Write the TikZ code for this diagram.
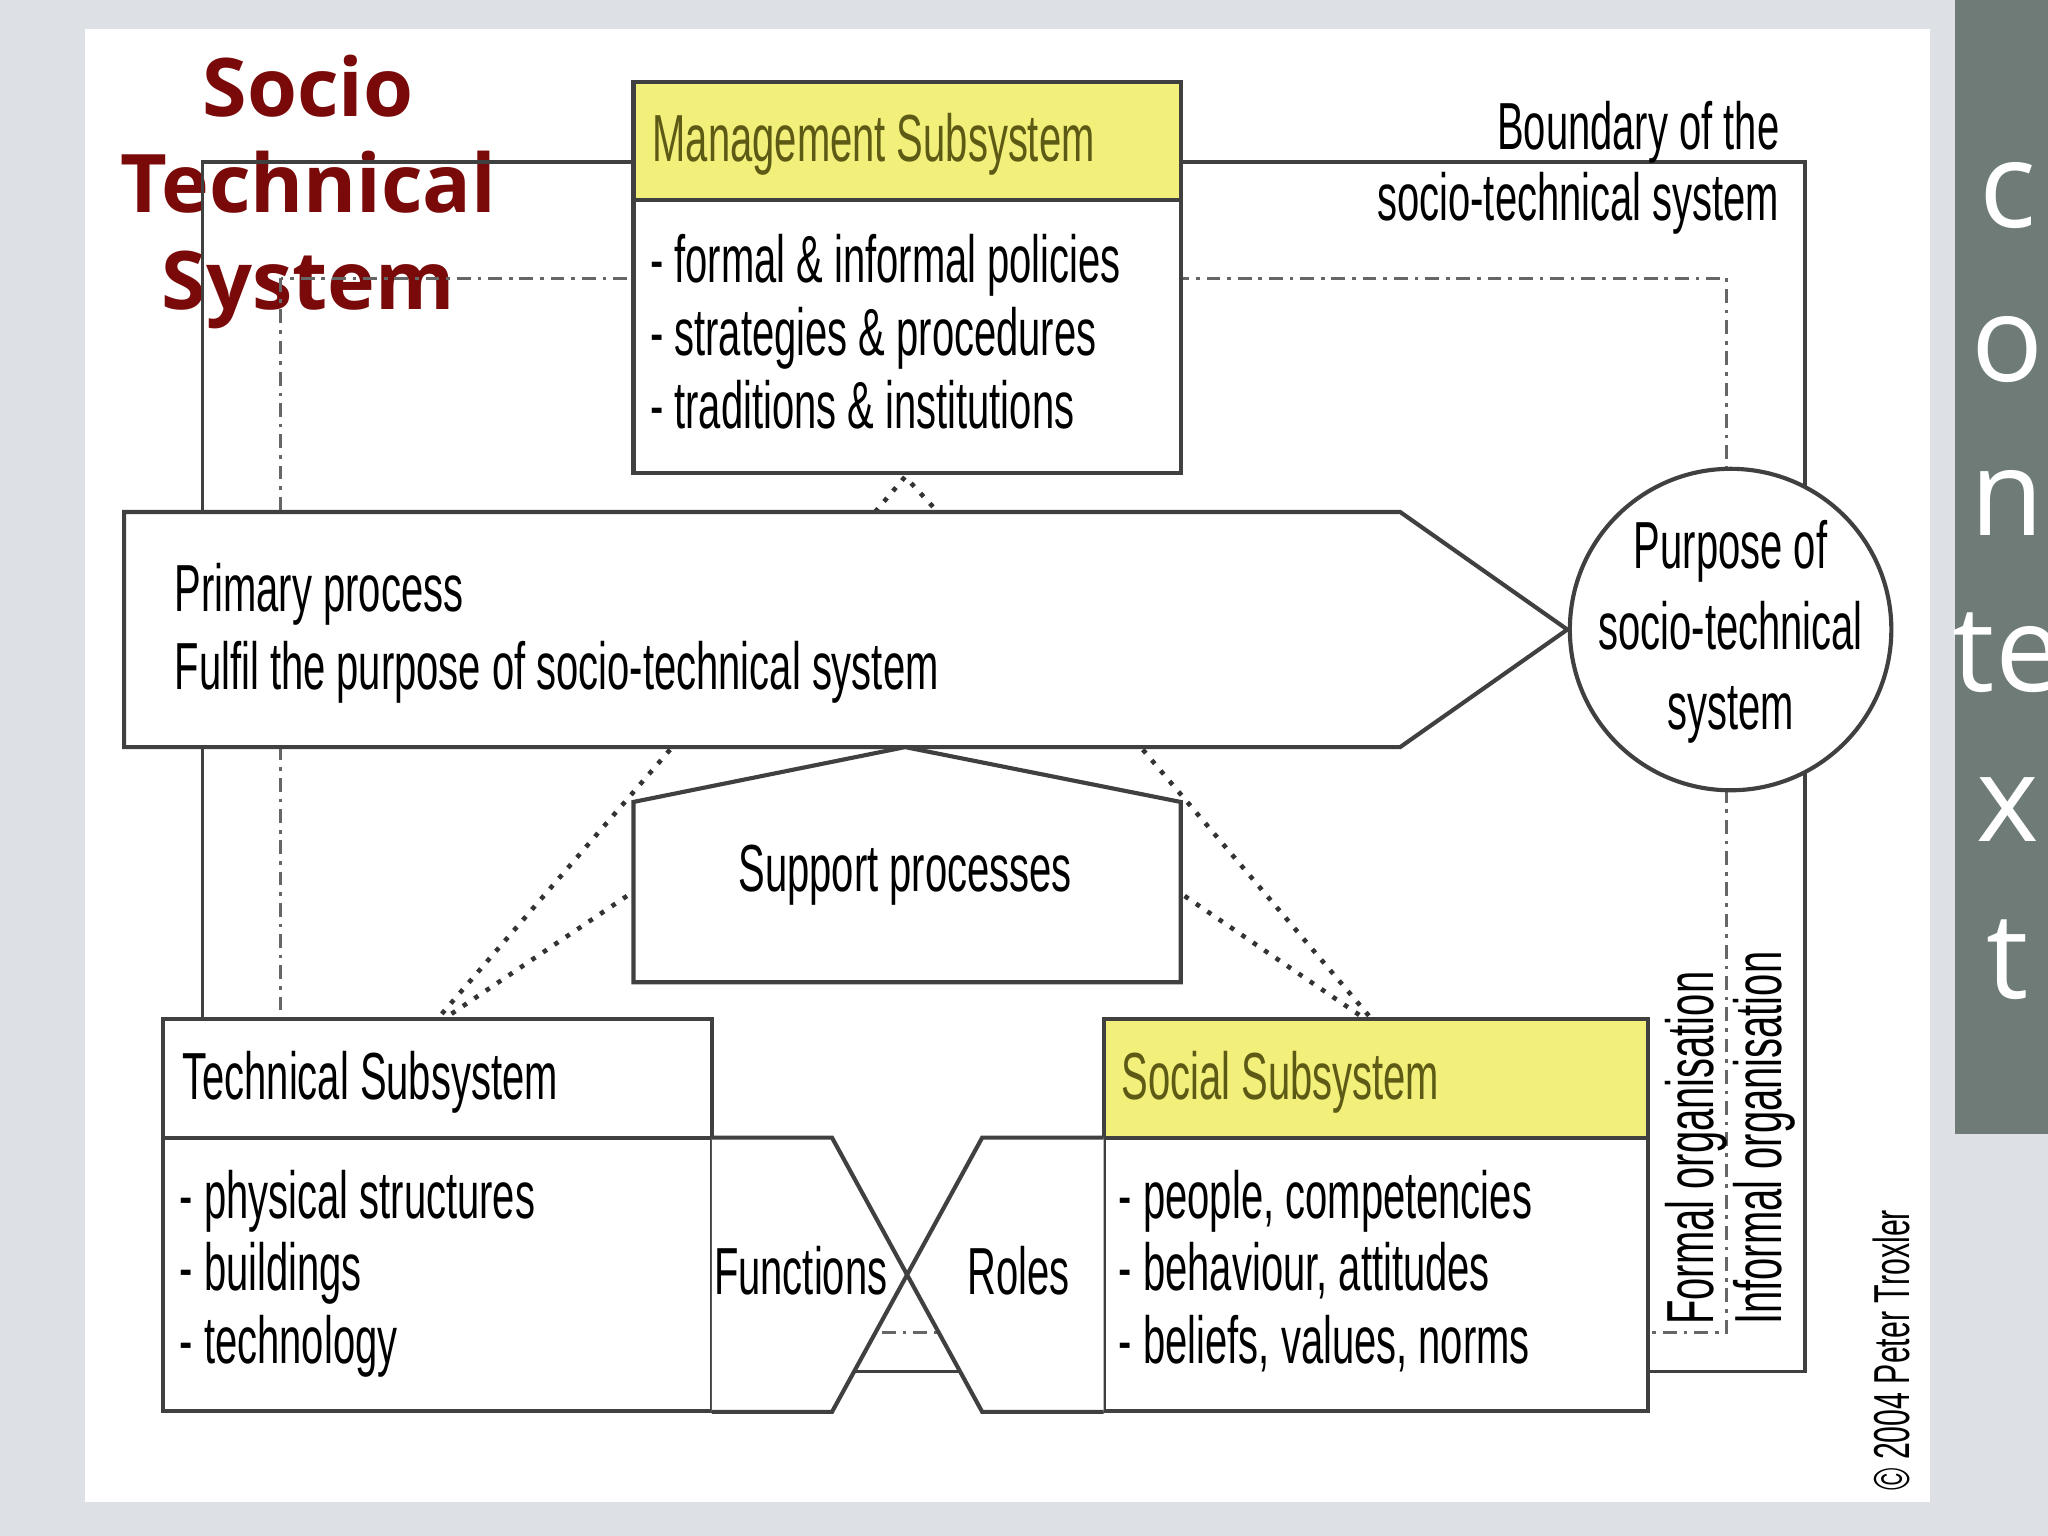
\documentclass[tikz,border=0pt]{standalone}
\usepackage{fontspec}
\setmainfont{Liberation Sans}[FakeStretch=0.6]
\newfontfamily\titlefont{Open Sans}
\usetikzlibrary{calc}
\definecolor{bg}{HTML}{DDE1E6}
\definecolor{hdr}{HTML}{F2F07A}
\definecolor{hdrtext}{HTML}{5C5A14}
\definecolor{ttl}{HTML}{7A0A0A}
\definecolor{bar}{HTML}{6E7B77}
\tikzset{
 box/.style={draw=black!75,line width=0.9pt,fill=white},
 bnd/.style={draw=black!75,line width=0.8pt},
 dd/.style={draw=black!60,line width=0.6pt,dash pattern=on 3pt off 1.5pt on 0.8pt off 1.5pt},
 dots/.style={draw=black!80,line width=1pt,dotted},
 txt/.style={font=\fontsize{14.5}{16}\selectfont,inner sep=0pt,anchor=base west},
 ctx/.style={font=\titlefont\fontsize{26}{26}\selectfont,text=white,inner sep=0pt},
}
\begin{document}
\begin{tikzpicture}[x=0.01cm,y=-0.01cm]
\useasboundingbox (0,0) rectangle (1568,1176);
\fill[bg] (0,0) rectangle (1568,1176);
\fill[white] (65,22) rectangle (1478,1150);
\fill[bar] (1497,0) rectangle (1568,868);
\foreach \t/\y in {c/150,o/268,n/385,te/500,x/620,t/735}
  \node[ctx] at (1537,\y) {\t};
% title
\node[font=\titlefont\bfseries\fontsize{17.6}{21}\selectfont,text=ttl,align=center,inner sep=0pt] (title) at (236,147) {Socio\\[0pt]Technical\\[0pt]System};
% boundary and dash-dot rectangles
\draw[bnd] (155,124) rectangle (1382,1050);
\draw[dd] (215,213) rectangle (1322,1020);
% management
\fill[hdr,draw=black!75,line width=0.9pt] (485,63) rectangle (904,153);
\draw[box] (485,153) rectangle (904,362);
\node[txt,text=hdrtext] (mgmt) at (499,124) {Management Subsystem};
\node[txt] (m1) at (497,216) {- formal \& informal policies};
\node[txt] (m2) at (497,272) {- strategies \& procedures};
\node[txt] (m3) at (497,328) {- traditions \& institutions};
% dotted links
\coordinate (mb) at (693,365);
\draw[dots] (670,392) -- (mb) -- (718,392);
\draw[dots] (513,574) -- (335,780);
\draw[dots] (480,686) -- (340,780);
\draw[dots] (875,574) -- (1050,780);
\draw[dots] (907,686) -- (1045,780);
% primary process
\draw[box] (95,392) -- (1072,392) -- (1200,482) -- (1072,572) -- (95,572) -- cycle;
\node[txt] (pp1) at (133,468) {Primary process};
\node[txt] (pp2) at (133,528) {Fulfil the purpose of socio-technical system};
% purpose circle
\node[box,circle,minimum size=2.46cm,inner sep=0pt] (purp) at (1325,482) {};
\node[font=\fontsize{14.5}{17.5}\selectfont,align=center,inner sep=0pt] (purptxt) at (1325,484) {Purpose of\\socio-technical\\system};
% support
\draw[box] (485,614) -- (693,572) -- (904,614) -- (904,752) -- (485,752) -- cycle;
\node[font=\fontsize{14.5}{16}\selectfont,inner sep=0pt] (sup) at (693,670) {Support processes};
% technical
\draw[box] (125,780) rectangle (545,871);
\draw[box] (125,871) rectangle (545,1080);
\node[txt] (tech) at (139,842) {Technical Subsystem};
\node[txt] (t1) at (137,933) {- physical structures};
\node[txt] (t2) at (137,988) {- buildings};
\node[txt] (t3) at (137,1044) {- technology};
% social
\fill[hdr,draw=black!75,line width=0.9pt] (845,780) rectangle (1262,871);
\draw[box] (845,871) rectangle (1262,1080);
\node[txt,text=hdrtext] (soc) at (858,842) {Social Subsystem};
\node[txt] (s1) at (856,933) {- people, competencies};
\node[txt] (s2) at (856,988) {- behaviour, attitudes};
\node[txt] (s3) at (856,1044) {- beliefs, values, norms};
% functions / roles
\fill[white] (545,871) -- (637,871) -- (694,975) -- (637,1081) -- (545,1081) -- cycle;
\fill[white] (845,871) -- (752,871) -- (694,975) -- (752,1081) -- (845,1081) -- cycle;
\draw[bnd,line width=0.9pt] (545,871) -- (637,871) -- (752,1081) -- (845,1081);
\draw[bnd,line width=0.9pt] (845,871) -- (752,871) -- (637,1081) -- (545,1081);
\node[txt] (fun) at (546,991) {Functions};
\node[txt] (rol) at (740,991) {Roles};
% boundary label
\node[font=\fontsize{14.5}{15.5}\selectfont,align=right,anchor=north east,inner sep=0pt] (blab) at (1363,77) {Boundary of the\\socio-technical system};
% rotated
\node[txt,rotate=90] (formal) at (1312,1015) {Formal organisation};
\node[txt,rotate=90] (informal) at (1364,1015) {Informal organisation};
\node[font=\fontsize{11}{12}\selectfont,rotate=90,anchor=base west,inner sep=0pt] (copy) at (1462,1142) {\textcopyright{} 2004 Peter Troxler};
\end{tikzpicture}
\end{document}
